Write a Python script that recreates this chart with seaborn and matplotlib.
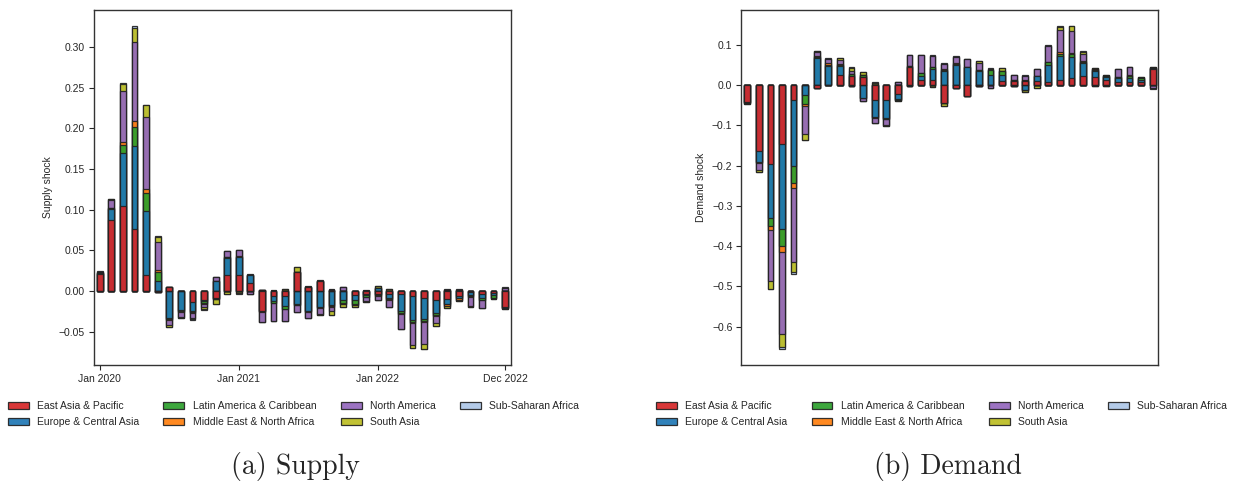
import numpy as np
import pandas as pd
import matplotlib
matplotlib.use("Agg")
import matplotlib.pyplot as plt
from matplotlib.patches import Patch
import seaborn as sns

# Monthly observations, Jan 2020 - Dec 2022
months = pd.date_range("2020-01-01", "2022-12-01", freq="MS").strftime("%Y-%m").tolist()
regions = ["East Asia & Pacific", "Europe & Central Asia", "Latin America & Caribbean",
           "Middle East & North Africa", "North America", "South Asia", "Sub-Saharan Africa"]
xtick_pos = [0, 12, 24, 35]
xtick_labels = ["Jan 2020", "Jan 2021", "Jan 2022", "Dec 2022"]

# ---- supply shock contributions by region ----
supply_eap = [0.021, 0.088, 0.105, 0.077, 0.0196, -0.001, 0.0045, 0.0005, -0.0135, -0.0115, -0.008, 0.0196,
              0.020, 0.0106, -0.024, -0.0055, -0.006, 0.0237, 0.005, 0.013, 0.002, 0.0005, -0.005, -0.004,
              -0.004, -0.003, -0.0035, -0.006, -0.008, -0.011, -0.010, -0.006, -0.0015, -0.003, -0.002, -0.019]
supply_eca = [0.001, 0.013, 0.065, 0.102, 0.079, 0.013, -0.033, -0.023, -0.011, -0.001, 0.0125, 0.0217,
              0.022, 0.009, 0.001, -0.0065, -0.0124, -0.0163, -0.024, -0.019, -0.017, -0.011, -0.006, -0.001,
              0.004, -0.006, -0.021, -0.029, -0.026, -0.0165, -0.006, -0.003, -0.003, -0.006, -0.003, -0.0015]
supply_lac = [0.0005, 0.001, 0.010, 0.0225, 0.0216, 0.011, -0.001, -0.001, -0.001, -0.002, -0.002, 0.0005,
              0.0005, 0.0005, -0.001, -0.002, -0.0035, -0.0005, -0.001, -0.001, -0.001, -0.004, -0.005, -0.002,
              -0.0005, -0.001, -0.003, -0.003, -0.003, -0.002, 0.001, 0.001, -0.002, -0.002, -0.003, -0.0005]
supply_mena = [0.0003, 0.0008, 0.004, 0.0074, 0.006, 0.002, -0.002, -0.002, -0.002, -0.001, 0.0005, 0.0003,
               0.0003, 0.0003, -0.0005, -0.0005, -0.0005, -0.0005, -0.0005, -0.0005, -0.001, -0.001, -0.0005, -0.0005,
               -0.001, -0.001, -0.0005, -0.001, -0.001, -0.001, -0.002, -0.002, -0.0005, -0.0005, -0.0005, 0.0003]
supply_na = [0.001, 0.009, 0.062, 0.097, 0.088, 0.034, -0.006, -0.006, -0.005, -0.004, 0.004, 0.0069,
             0.0074, -0.003, -0.012, -0.022, -0.014, -0.008, -0.007, -0.008, -0.006, 0.004, 0.0003, -0.005,
             -0.006, -0.008, -0.018, -0.027, -0.027, -0.009, 0.001, 0.001, -0.011, -0.009, 0.0003, 0.004]
supply_sa = [0.0003, 0.001, 0.009, 0.018, 0.0143, 0.007, -0.002, -0.001, -0.002, -0.003, -0.006, -0.003,
             -0.002, -0.0005, -0.0005, 0.0005, 0.003, 0.0055, -0.0003, -0.0005, -0.004, -0.003, -0.003, -0.001,
             0.002, 0.003, -0.001, -0.004, -0.006, -0.003, -0.003, -0.001, -0.001, 0.0003, -0.001, -0.001]
supply_ssa = [0.0005, 0.001, 0.001, 0.002, 0.001, 0.0005, -0.0005, -0.0005, -0.0005, -0.0005, 0.0005, -0.001,
              -0.001, 0.0005, 0.0003, 0.0005, -0.0003, 0.0003, 0.0007, 0.0003, 0.001, 0.0003, -0.0005, 0.001,
              0.0005, -0.0003, 0.0003, 0.0003, 0.0003, 0.0003, 0.0003, 0.0003, 0.0003, 0.0003, 0.0003, 0.0003]

# ---- demand shock contributions by region ----
demand_eap = [-0.041, -0.163, -0.196, -0.147, -0.038, -0.0005, -0.008, 0.0015, 0.024, 0.023, 0.019, -0.037,
              -0.0365, -0.021, 0.046, 0.012, 0.012, -0.045, -0.006, -0.0265, -0.003, 0.0005, 0.010, 0.011,
              0.009, 0.009, 0.008, 0.0125, 0.0175, 0.023, 0.019, 0.0125, 0.0065, 0.0065, 0.0065, 0.039]
demand_eca = [-0.002, -0.027, -0.134, -0.210, -0.164, -0.025, 0.068, 0.045, 0.023, -0.003, -0.031, -0.043,
              -0.046, -0.014, -0.001, 0.011, 0.027, 0.035, 0.050, 0.044, 0.034, 0.025, 0.015, -0.003,
              -0.011, 0.0125, 0.042, 0.060, 0.053, 0.031, 0.0165, 0.008, 0.012, 0.011, 0.006, 0.003]
demand_lac = [-0.0005, -0.002, -0.020, -0.043, -0.041, -0.022, 0.002, 0.003, 0.003, 0.004, 0.006, 0.001,
              -0.001, -0.001, 0.0005, 0.006, 0.006, 0.003, 0.003, 0.001, 0.003, 0.011, 0.010, 0.002,
              0.002, 0.0005, 0.0065, 0.006, 0.008, 0.004, 0.003, 0.002, 0.002, 0.006, 0.004, 0.0005]
demand_mena = [-0.0003, -0.002, -0.009, -0.014, -0.013, -0.004, 0.002, 0.005, 0.002, 0.0005, -0.001, -0.001,
               -0.0005, -0.001, -0.0005, 0.0005, 0.0005, 0.002, 0.003, 0.0005, 0.001, 0.0005, 0.0005, 0.0005,
               0.0005, 0.0005, 0.0005, 0.004, 0.001, 0.003, 0.001, 0.001, 0.0005, 0.0005, 0.0005, 0.0003]
demand_na = [-0.001, -0.018, -0.127, -0.204, -0.184, -0.071, 0.009, 0.010, 0.010, 0.008, -0.007, -0.013,
             -0.016, 0.007, 0.028, 0.046, 0.028, 0.013, 0.015, 0.019, 0.017, -0.008, -0.0005, 0.011,
             0.012, 0.018, 0.040, 0.055, 0.056, 0.0165, -0.003, -0.003, 0.018, 0.020, 0.0005, -0.008]
demand_sa = [-0.001, -0.004, -0.020, -0.033, -0.025, -0.013, 0.003, 0.001, 0.005, 0.008, 0.007, 0.005,
             -0.0005, -0.002, -0.001, -0.0005, -0.004, -0.007, -0.002, -0.0005, 0.004, 0.004, 0.006, 0.0005,
             -0.005, -0.006, 0.001, 0.008, 0.0105, 0.0055, 0.003, 0.001, 0.0005, -0.0005, 0.003, 0.001]
demand_ssa = [-0.0003, -0.001, -0.001, -0.004, -0.004, -0.0005, 0.001, 0.001, 0.001, 0.0005, -0.0005, 0.0005,
              0.0005, -0.0005, 0.0005, 0.0005, 0.0005, 0.001, 0.0005, 0.001, 0.0005, 0.0005, 0.0005, 0.001,
              0.0005, 0.0005, 0.001, 0.0005, 0.0005, 0.001, 0.001, 0.001, 0.0005, 0.0005, 0.0005, -0.001]

supply = pd.DataFrame(dict(zip(regions, [supply_eap, supply_eca, supply_lac, supply_mena,
                                         supply_na, supply_sa, supply_ssa])), index=months)
demand = pd.DataFrame(dict(zip(regions, [demand_eap, demand_eca, demand_lac, demand_mena,
                                         demand_na, demand_sa, demand_ssa])), index=months)

tab10 = sns.color_palette("tab10")
tab20 = sns.color_palette("tab20")
colors = dict(zip(regions, [tab10[3], tab10[0], tab10[2], tab10[1], tab10[4], tab10[8], tab20[1]]))

sns.set_theme(style="ticks")
plt.rcParams["font.family"] = ["Liberation Sans", "DejaVu Sans"]
plt.rcParams.update({
    "font.size": 7.5,
    "axes.labelsize": 7.5,
    "xtick.labelsize": 7.5,
    "ytick.labelsize": 7.5,
    "axes.linewidth": 1.0,
    "axes.edgecolor": "#333333",
    "xtick.major.size": 3.5,
    "ytick.major.size": 3.5,
    "xtick.major.width": 0.8,
    "ytick.major.width": 0.8,
    "xtick.major.pad": 3,
    "ytick.major.pad": 3,
})

EDGE = "#222222"


def stacked_bars(ax, df):
    """Stack positive contributions upward and negative ones downward."""
    pos = df.clip(lower=0).cumsum(axis=1)
    neg = df.clip(upper=0).cumsum(axis=1)
    for region in reversed(regions):
        for cum in (pos, neg):
            sns.barplot(x=months, y=cum[region].values, order=months, color=colors[region],
                        saturation=1, width=0.5, edgecolor=EDGE, linewidth=0.9,
                        alpha=0.92, errorbar=None, ax=ax)
    ax.set_xlim(-0.5, len(months) - 0.5)
    ax.set_xlabel("")


fig = plt.figure(figsize=(12.42, 4.87), dpi=100)
ax_s = fig.add_axes([0.0757, 0.2505, 0.3357, 0.729])
ax_d = fig.add_axes([0.5970, 0.2505, 0.3357, 0.729])

stacked_bars(ax_s, supply)
ax_s.set_xticks(xtick_pos, xtick_labels)
ax_s.set_ylabel("Supply shock")

stacked_bars(ax_d, demand)
ax_d.set_xticks([])
ax_d.set_ylabel("Demand shock")

for ax in (ax_s, ax_d):
    for side in ("top", "right", "left", "bottom"):
        ax.spines[side].set_visible(True)
    ax.autoscale(axis="y")
    ax.margins(y=0.05)

handles = [Patch(facecolor=colors[r], edgecolor=EDGE, linewidth=0.9, alpha=0.92, label=r) for r in regions]
for x0 in (0.0062, 0.5280):
    fig.legend(handles=handles, loc="upper left", bbox_to_anchor=(x0, 0.176), ncol=4,
               frameon=False, fontsize=7.5, columnspacing=2.35, handlelength=2.0,
               handletextpad=0.8, borderpad=0, borderaxespad=0, labelspacing=0.55)

fig.text(0.2375, 0.043, "(a) Supply", ha="center", va="center", fontfamily="cmr10", fontsize=20)
fig.text(0.7630, 0.043, "(b) Demand", ha="center", va="center", fontfamily="cmr10", fontsize=20)

fig.savefig("out.png", dpi=100)
